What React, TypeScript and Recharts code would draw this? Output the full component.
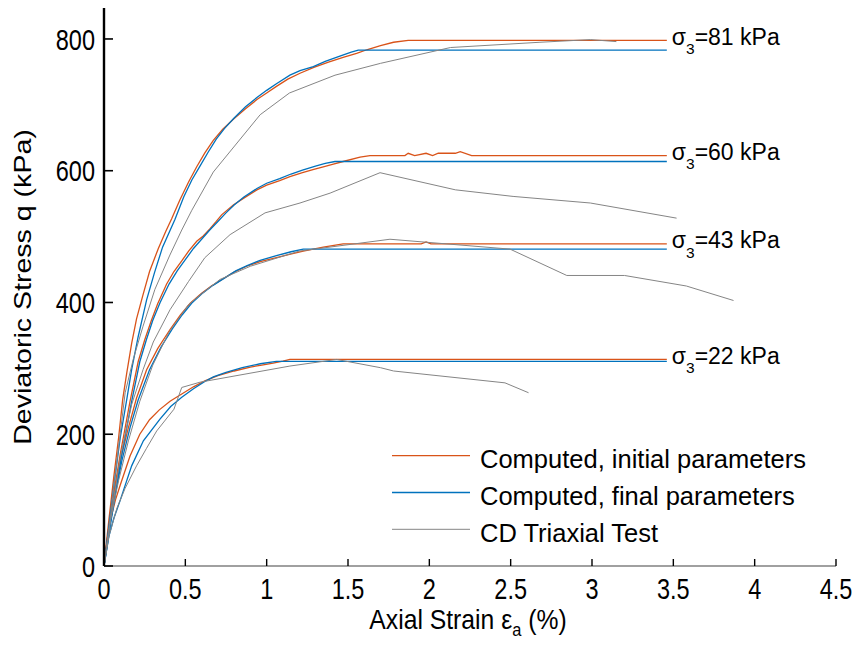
import React from 'react';
import { LineChart, Line, XAxis, YAxis, Legend } from 'recharts';

// ---------- tick values ----------
const xTicks = [0, 0.5, 1, 1.5, 2, 2.5, 3, 3.5, 4, 4.5];
const yTicks = [0, 200, 400, 600, 800];

// ---------- sigma3 = 81 kPa ----------
const strainInit81 = [0, 0.03, 0.06, 0.09, 0.115, 0.14, 0.17, 0.2, 0.238, 0.28, 0.334, 0.38, 0.416, 0.467, 0.52, 0.57, 0.62, 0.672, 0.73, 0.795, 0.87, 0.94, 1.0, 1.06, 1.13, 1.205, 1.29, 1.38, 1.47, 1.553, 1.62, 1.7, 1.78, 1.87, 3.46];
const qInit81 = [0, 70, 135, 195, 253, 293, 338, 375, 410, 447, 482, 508, 527, 556, 583, 606, 627, 646, 663, 678, 694, 708, 718, 728, 739, 748, 757, 765, 772, 778, 784, 790, 795, 798, 798];
const strainFinal81 = [0, 0.035, 0.065, 0.1, 0.14, 0.17, 0.21, 0.262, 0.31, 0.36, 0.436, 0.49, 0.54, 0.59, 0.64, 0.69, 0.74, 0.8, 0.87, 0.94, 1.0, 1.06, 1.143, 1.205, 1.287, 1.36, 1.45, 1.52, 1.563, 3.46];
const qFinal81 = [0, 70, 130, 195, 253, 298, 348, 404, 445, 484, 526, 560, 586, 607, 628, 648, 664, 680, 697, 711, 722, 732, 745, 752, 758, 766, 774, 780, 783, 783];
const strainTest81 = [0, 0.03, 0.07, 0.13, 0.18, 0.24, 0.313, 0.405, 0.478, 0.54, 0.672, 0.96, 1.14, 1.42, 1.7, 2.13, 2.68, 2.99, 3.15];
const qTest81 = [0, 55, 140, 263, 314, 364, 420, 472, 510, 540, 598, 685, 718, 745, 763, 787, 795, 799, 796];

// ---------- sigma3 = 60 kPa ----------
const strainInit60 = [0, 0.03, 0.06, 0.1, 0.16, 0.21, 0.25, 0.29, 0.33, 0.385, 0.43, 0.478, 0.52, 0.57, 0.61, 0.652, 0.69, 0.723, 0.795, 0.857, 0.94, 1.0, 1.08, 1.143, 1.22, 1.29, 1.348, 1.41, 1.47, 1.574, 1.635, 1.85, 1.87, 1.91, 1.98, 2.02, 2.055, 2.16, 2.19, 2.26, 3.46];
const qInit60 = [0, 55, 110, 170, 250, 310, 343, 372, 398, 428, 447, 463, 478, 493, 501, 512, 523, 533, 548, 558, 571, 578, 585, 591, 597, 602, 606, 610, 614, 620.5, 623, 623, 626.5, 623, 626.5, 623, 626.5, 626.5, 629, 623, 623];
const strainFinal60 = [0, 0.035, 0.07, 0.11, 0.17, 0.22, 0.26, 0.3, 0.345, 0.4, 0.45, 0.5, 0.55, 0.6, 0.65, 0.7, 0.75, 0.8, 0.86, 0.94, 1.0, 1.08, 1.15, 1.22, 1.3, 1.36, 1.42, 3.46];
const qFinal60 = [0, 55, 110, 170, 250, 310, 343, 373, 400, 428, 448, 465, 482, 496, 510, 523, 536, 548, 560, 573, 581, 588, 595, 601, 607, 611, 614, 614];
const strainTest60 = [0, 0.04, 0.1, 0.17, 0.24, 0.303, 0.406, 0.52, 0.62, 0.775, 0.99, 1.205, 1.39, 1.697, 2.16, 2.515, 2.99, 3.52];
const qTest60 = [0, 70, 165, 245, 298, 340, 389, 432, 468, 503, 536, 551, 566, 597, 571, 561, 551, 528];

// ---------- sigma3 = 43 kPa ----------
const strainInit43 = [0, 0.03, 0.06, 0.1, 0.15, 0.2, 0.262, 0.33, 0.406, 0.47, 0.53, 0.6, 0.66, 0.733, 0.8, 0.877, 0.96, 1.06, 1.14, 1.225, 1.348, 1.47, 1.95, 1.98, 2.01, 3.46];
const qInit43 = [0, 60, 110, 160, 210, 255, 298, 330, 359, 381, 399, 414, 425, 436, 446, 455, 462, 468, 473, 478, 484, 489, 489, 492, 489, 489];
const strainFinal43 = [0, 0.035, 0.07, 0.11, 0.16, 0.21, 0.28, 0.35, 0.42, 0.48, 0.54, 0.6, 0.67, 0.74, 0.81, 0.88, 0.96, 1.06, 1.15, 1.225, 3.46];
const qFinal43 = [0, 60, 110, 160, 210, 252, 298, 332, 360, 381, 399, 413, 426, 437, 448, 456, 464, 471, 477, 481, 481];
const strainTest43 = [0, 0.04, 0.09, 0.15, 0.22, 0.3, 0.4, 0.52, 0.713, 0.9, 1.2, 1.758, 2.496, 2.845, 3.2, 3.58, 3.87];
const qTest43 = [0, 70, 130, 190, 250, 305, 355, 397, 435, 455, 478, 496, 481, 441, 441, 425, 403];

// ---------- sigma3 = 22 kPa ----------
const strainInit22 = [0, 0.02, 0.04, 0.07, 0.1, 0.16, 0.22, 0.28, 0.34, 0.406, 0.478, 0.55, 0.62, 0.7, 0.8, 0.9, 0.97, 1.04, 1.1, 1.143, 3.46];
const qInit22 = [0, 40, 70, 100, 123, 167, 200, 222, 237, 250, 261, 272, 281, 289, 296, 302, 305, 308, 311, 313.5, 313.5];
const strainFinal22 = [0, 0.03, 0.06, 0.1, 0.17, 0.242, 0.344, 0.41, 0.478, 0.55, 0.62, 0.672, 0.75, 0.85, 0.96, 1.06, 3.46];
const qFinal22 = [0, 45, 72, 100, 152, 190, 223, 242, 256, 269, 280, 287, 294, 301, 307, 310.5, 310.5];
const strainTest22 = [0, 0.03, 0.08, 0.13, 0.2, 0.26, 0.324, 0.43, 0.478, 0.59, 1.143, 1.43, 1.7, 1.78, 2.465, 2.61];
const qTest22 = [0, 45, 88, 118, 152, 178, 205, 238, 271, 279, 303.5, 313.5, 301, 296, 278, 263];

const legendNames = ['Computed, initial parameters', 'Computed, final parameters', 'CD Triaxial Test'];

const ORANGE = '#D95319';
const BLUE = '#0072BD';
const GRAY = '#858585';
const FONT = '"Liberation Sans", Arial, Helvetica, sans-serif';

const zip = (xs: number[], ys: number[]) => xs.map((x, i) => ({ x, q: ys[i] }));

const groups = [
  { sigma: '81', init: zip(strainInit81, qInit81), fin: zip(strainFinal81, qFinal81), test: zip(strainTest81, qTest81) },
  { sigma: '60', init: zip(strainInit60, qInit60), fin: zip(strainFinal60, qFinal60), test: zip(strainTest60, qTest60) },
  { sigma: '43', init: zip(strainInit43, qInit43), fin: zip(strainFinal43, qFinal43), test: zip(strainTest43, qTest43) },
  { sigma: '22', init: zip(strainInit22, qInit22), fin: zip(strainFinal22, qFinal22), test: zip(strainTest22, qTest22) },
];

const XTick = (props: any) => {
  const { x, y, payload } = props;
  return (
    <g>
      <line x1={x} y1={y} x2={x} y2={y - 7} stroke="#000" strokeWidth={1.4} />
      <text
        transform={`translate(${x},${y + 33}) scale(1,1.26)`}
        textAnchor="middle"
        fontSize={23.5}
        fontFamily={FONT}
        fill="#000"
      >
        {String(payload.value)}
      </text>
    </g>
  );
};

const YTick = (props: any) => {
  const { x, y, payload } = props;
  return (
    <g>
      <line x1={x} y1={y} x2={x + 9} y2={y} stroke="#000" strokeWidth={1.6} />
      <text
        transform={`translate(${x - 9},${y + 10.7}) scale(1,1.28)`}
        textAnchor="end"
        fontSize={23.5}
        fontFamily={FONT}
        fill="#000"
      >
        {String(payload.value)}
      </text>
    </g>
  );
};

const XLabel = (props: any) => {
  const vb = props.viewBox || { x: 104, y: 566, width: 732, height: 79 };
  const cx = vb.x + vb.width / 2 - 2;
  const by = vb.y + 63;
  return (
    <text transform={`translate(${cx},${by}) scale(1.03,1.12)`} textAnchor="middle" fontSize={24} fontFamily={FONT} fill="#000">
      <tspan>Axial Strain ε</tspan>
      <tspan fontSize={16} dy={6}>a</tspan>
      <tspan dy={-6}> (%)</tspan>
    </text>
  );
};

const YLabel = (props: any) => {
  const vb = props.viewBox || { x: 0, y: 8, width: 104, height: 558 };
  const cy = vb.y + vb.height / 2;
  return (
    <text transform={`translate(31,${cy}) rotate(-90) scale(1.19,1)`} textAnchor="middle" fontSize={24} fontFamily={FONT} fill="#000">
      Deviatoric Stress q (kPa)
    </text>
  );
};

const makeSigmaLabel = (sigma: string, lastIndex: number) => (props: any) => {
  const { index } = props;
  if (index !== lastIndex) return null;
  const x = props.x ?? props.viewBox?.x;
  const y = props.y ?? props.viewBox?.y;
  return (
    <text x={x + 5} y={y + 4.3} fontSize={23} fontFamily={FONT} fill="#000">
      <tspan>σ</tspan>
      <tspan fontSize={15.5} dy={9.5}>3</tspan>
      <tspan dy={-9.5}>={sigma} kPa</tspan>
    </text>
  );
};

const legendColors = [ORANGE, BLUE, GRAY];
const legendWidths = [1.3, 1.3, 1];

const LegendBox = () => (
  <svg width={440} height={115} style={{ display: 'block' }}>
    {legendNames.map((name, i) => {
      const ly = 23.7 + i * 36.8;
      return (
        <g key={name}>
          <line x1={7} y1={ly} x2={85} y2={ly} stroke={legendColors[i]} strokeWidth={legendWidths[i]} />
          <text x={95} y={ly + 12.5} fontSize={25.5} fontFamily={FONT} fill="#000">
            {name}
          </text>
        </g>
      );
    })}
  </svg>
);

export default function App() {
  return (
    <div style={{ position: 'absolute', left: 0, top: 0, width: 856, height: 645, background: '#fff' }}>
      <LineChart width={856} height={645} margin={{ top: 8, right: 20, bottom: 0, left: 0 }}>
        <XAxis
          type="number"
          dataKey="x"
          domain={[0, 4.5]}
          ticks={xTicks}
          height={79}
          tickSize={0}
          tickMargin={0}
          tick={<XTick />}
          axisLine={{ stroke: '#808080', strokeWidth: 1.6 }}
          allowDataOverflow
          label={(p: any) => <XLabel {...p} />}
        />
        <YAxis
          type="number"
          domain={[0, 847]}
          ticks={yTicks}
          width={104}
          tickSize={0}
          tickMargin={0}
          tick={<YTick />}
          axisLine={{ stroke: '#000', strokeWidth: 2.4 }}
          allowDataOverflow
          label={(p: any) => <YLabel {...p} />}
        />
        <XAxis
          xAxisId="top"
          orientation="top"
          type="number"
          domain={[0, 4.5]}
          height={0}
          tick={false}
          tickLine={false}
          axisLine={{ stroke: '#222', strokeWidth: 1.2 }}
        />
        <YAxis
          yAxisId="right"
          orientation="right"
          type="number"
          domain={[0, 847]}
          width={0}
          tick={false}
          tickLine={false}
          axisLine={{ stroke: '#000', strokeWidth: 1.8 }}
        />
        {groups.map((g) => (
          <Line
            key={`init-${g.sigma}`}
            data={g.init}
            dataKey="q"
            type="linear"
            stroke={ORANGE}
            strokeWidth={1.3}
            dot={false}
            isAnimationActive={false}
            label={makeSigmaLabel(g.sigma, g.init.length - 1)}
          />
        ))}
        {groups.map((g) => (
          <Line
            key={`fin-${g.sigma}`}
            data={g.fin}
            dataKey="q"
            type="linear"
            stroke={BLUE}
            strokeWidth={1.3}
            dot={false}
            isAnimationActive={false}
          />
        ))}
        {groups.map((g) => (
          <Line
            key={`test-${g.sigma}`}
            data={g.test}
            dataKey="q"
            type="linear"
            stroke={GRAY}
            strokeWidth={1}
            dot={false}
            isAnimationActive={false}
          />
        ))}
        <Legend
          layout="vertical"
          align="center"
          verticalAlign="middle"
          wrapperStyle={{ left: 385, top: 432, width: 440, height: 115 }}
          content={() => <LegendBox />}
        />
      </LineChart>
    </div>
  );
}
